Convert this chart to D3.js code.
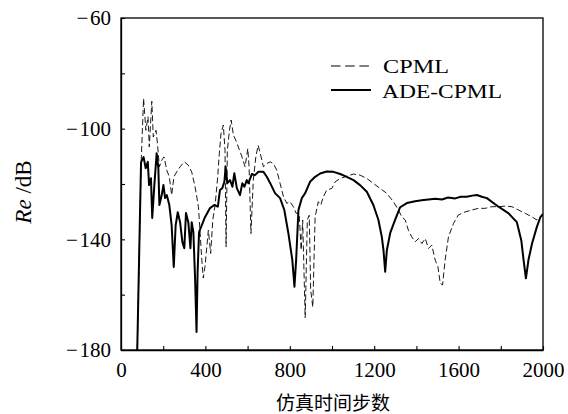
<!DOCTYPE html>
<html>
<head>
<meta charset="utf-8">
<script src="https://cdn.jsdelivr.net/npm/d3@7"></script>
<style>
  body { margin: 0; background: #fff; }
  text { font-family: "Liberation Serif", serif; fill: #000; }
</style>
</head>
<body>
<div id="chart"></div>
<script>
// ADE-CPML (solid)
const adeSteps = [77, 95, 107, 117, 127, 133, 142, 148, 158, 169, 177, 182, 193, 201, 209, 217, 229, 240, 250, 259,
    269, 280, 291, 300, 308, 319, 329, 335, 343, 351, 358, 363, 370, 383, 398, 422, 442, 459, 469, 480,
    490, 496, 504, 517, 528, 537, 549, 564, 575, 585, 596, 604, 620, 635, 651, 675, 691, 707, 730, 754,
    774, 793, 812, 822, 830, 841, 857, 873, 896, 920, 944, 975, 1007, 1039, 1070, 1102, 1133, 1165, 1196, 1220,
    1236, 1244, 1252, 1260, 1276, 1299, 1323, 1355, 1394, 1425, 1457, 1490, 1521, 1550, 1584, 1610, 1639, 1665, 1687, 1710,
    1734, 1789, 1837, 1876, 1897, 1908, 1919, 1931, 1948, 1971, 1987, 1999];
const adeValues = [-180, -112.1, -110.3, -114.3, -112, -120.4, -117.9, -132.3, -120.4, -108.9, -114.3, -127.6, -124, -120.4, -125.1, -124, -127.6, -134.9, -150, -134.9,
    -130.2, -133.8, -141, -143.2, -130.5, -133.8, -143.2, -133.8, -137.4, -154, -173.5, -151.8, -137.4, -134.9, -132, -128.7, -127.6, -128.2, -122.2, -121.5,
    -119.2, -113.8, -119.7, -118.6, -121, -116.1, -121.5, -124, -119.7, -121, -118.6, -119.7, -116.4, -116.8, -115.6, -115.6, -117.4, -119.7, -123.3, -125.1,
    -129.4, -137.7, -147.5, -157.1, -147.5, -129.4, -125.1, -123.3, -119.2, -117.4, -116.2, -115.5, -115.6, -116.4, -117.4, -118.6, -120.4, -122.8, -127.6, -133,
    -139.1, -143.9, -151.7, -143.9, -137.7, -133, -128.4, -126.9, -126.2, -125.9, -125.6, -125.3, -125.6, -124.9, -125.2, -124.6, -124.6, -124.2, -124, -124.6,
    -125.1, -128.2, -130.6, -133.8, -140.3, -147.5, -154.1, -147.5, -141.5, -135.5, -132.1, -130.9];

// CPML (dashed)
const cpmlSteps = [77, 95, 107, 118, 128, 134, 146, 153, 166, 172, 182, 193, 204, 217, 229, 240, 251, 264, 280, 300,
    319, 335, 351, 367, 375, 383, 390, 398, 414, 425, 435, 446, 457, 466, 474, 485, 493, 498, 504, 514,
    522, 533, 546, 556, 572, 588, 601, 607, 616, 627, 639, 650, 664, 675, 691, 707, 722, 738, 754, 770,
    786, 801, 817, 830, 844, 854, 861, 873, 883, 892, 899, 909, 920, 935, 947, 959, 975, 999, 1015, 1039,
    1070, 1102, 1133, 1165, 1196, 1228, 1260, 1291, 1315, 1331, 1347, 1362, 1378, 1394, 1410, 1426, 1442, 1457, 1473, 1489,
    1502, 1513, 1524, 1536, 1552, 1576, 1599, 1631, 1663, 1694, 1726, 1758, 1789, 1821, 1853, 1884, 1916, 1948, 1971, 1987, 1999];
const cpmlValues = [-180, -113.2, -89.1, -100.6, -95.7, -106.6, -90.1, -103, -100.6, -104.8, -113.8, -111.4, -110.2, -115, -117.4, -124, -117.4, -115.6, -113.8, -112,
    -113.2, -115.6, -121, -128.2, -137.7, -147.5, -154, -149.9, -136.7, -145.1, -133, -127.6, -118.6, -109, -101.7, -98.7, -107.8, -142.7, -107.8, -100.6,
    -96.9, -102.4, -104.5, -106.6, -109.9, -113.8, -107.2, -113.8, -137.9, -118.6, -110.2, -106, -110.2, -113.8, -112.6, -112, -112.6, -115, -119.8, -124.6,
    -127, -126.4, -128.2, -130.6, -130.5, -143.9, -133, -168.4, -133, -131.3, -158.3, -164.5, -131.9, -126.4, -127.6, -124.6, -122.2, -121.6, -119.2, -118,
    -117.2, -116.4, -116.8, -118, -119.8, -121.6, -123.4, -126.4, -129.4, -131.9, -133, -136.7, -139.1, -140.9, -139.7, -141.5, -139.7, -143.3, -142.1, -147.5,
    -149.9, -155.9, -156.5, -147.5, -139.1, -134.2, -131.2, -130.1, -129.4, -128.8, -128.8, -128.2, -128.2, -128, -128.2, -129.4, -130.6, -131.9, -133, -132.1, -130.9];

const xTicks = d3.range(0, 2001, 200);
const yTicks = d3.range(-180, -59, 20);
const xLabels = [0, 400, 800, 1200, 1600, 2000];
const yLabels = [-180, -140, -100, -60];

const width = 568;
const height = 414;
const margin = { top: 18, right: 25, bottom: 64, left: 121 };

const svg = d3.select("#chart")
    .append("svg")
    .attr("width", width)
    .attr("height", height);

const x = d3.scaleLinear().domain([0, 2000]).range([margin.left, width - margin.right]);
const y = d3.scaleLinear().domain([-180, -60]).range([height - margin.bottom, margin.top]);

svg.append("defs").append("clipPath").attr("id", "plot")
    .append("rect")
    .attr("x", margin.left).attr("y", margin.top)
    .attr("width", width - margin.left - margin.right)
    .attr("height", height - margin.top - margin.bottom);

const line = d3.line().x(d => x(d[0])).y(d => y(d[1]));

// CPML dashed
svg.append("path")
    .datum(d3.zip(cpmlSteps, cpmlValues))
    .attr("clip-path", "url(#plot)")
    .attr("fill", "none")
    .attr("stroke", "#000")
    .attr("stroke-width", 0.9)
    .attr("stroke-dasharray", "6,3")
    .attr("d", line);

// ADE-CPML solid
svg.append("path")
    .datum(d3.zip(adeSteps, adeValues))
    .attr("clip-path", "url(#plot)")
    .attr("fill", "none")
    .attr("stroke", "#000")
    .attr("stroke-width", 2)
    .attr("stroke-linejoin", "round")
    .attr("d", line);

// frame
svg.append("rect")
    .attr("x", margin.left).attr("y", margin.top)
    .attr("width", width - margin.left - margin.right)
    .attr("height", height - margin.top - margin.bottom)
    .attr("fill", "none")
    .attr("stroke", "#000")
    .attr("stroke-width", 1.3);

const xAxis = svg.append("g")
    .attr("transform", `translate(0,${height - margin.bottom})`)
    .call(d3.axisBottom(x).tickValues(xTicks).tickSizeInner(-4).tickSizeOuter(0).tickPadding(12)
        .tickFormat(d => xLabels.includes(d) ? d : ""));

const yAxis = svg.append("g")
    .attr("transform", `translate(${margin.left},0)`)
    .call(d3.axisLeft(y).tickValues(yTicks).tickSizeInner(-4).tickSizeOuter(0).tickPadding(10)
        .tickFormat(d => yLabels.includes(d) ? "\u2212\u200A" + Math.abs(d) : ""));

[xAxis, yAxis].forEach(g => {
    g.select(".domain").attr("stroke-width", 1.3);
    g.selectAll(".tick line").attr("stroke-width", 1.1);
    g.selectAll("text")
        .style("font-family", "Liberation Serif, serif")
        .style("font-size", "21px");
});

// axis titles
svg.append("text")
    .attr("x", 333)
    .attr("y", 410)
    .attr("text-anchor", "middle")
    .style("font-family", "Noto Sans CJK SC, sans-serif")
    .style("font-size", "19px")
    .text("仿真时间步数");

const yTitle = svg.append("text")
    .attr("transform", "translate(31,192) rotate(-90)")
    .attr("text-anchor", "middle")
    .style("font-size", "23px");
yTitle.append("tspan").style("font-style", "italic").text("Re");
yTitle.append("tspan").text(" /dB");

// legend
const legend = svg.append("g");
legend.append("line")
    .attr("x1", 331).attr("x2", 369).attr("y1", 66).attr("y2", 66)
    .attr("stroke", "#000").attr("stroke-width", 1)
    .attr("stroke-dasharray", "9.5,4.7");
legend.append("text")
    .attr("x", 383).attr("y", 73)
    .attr("textLength", 66).attr("lengthAdjust", "spacingAndGlyphs")
    .style("font-size", "18px")
    .text("CPML");
legend.append("line")
    .attr("x1", 331).attr("x2", 371).attr("y1", 90).attr("y2", 90)
    .attr("stroke", "#000").attr("stroke-width", 2);
legend.append("text")
    .attr("x", 382).attr("y", 98)
    .attr("textLength", 120).attr("lengthAdjust", "spacingAndGlyphs")
    .style("font-size", "18px")
    .text("ADE-CPML");
</script>
</body>
</html>
